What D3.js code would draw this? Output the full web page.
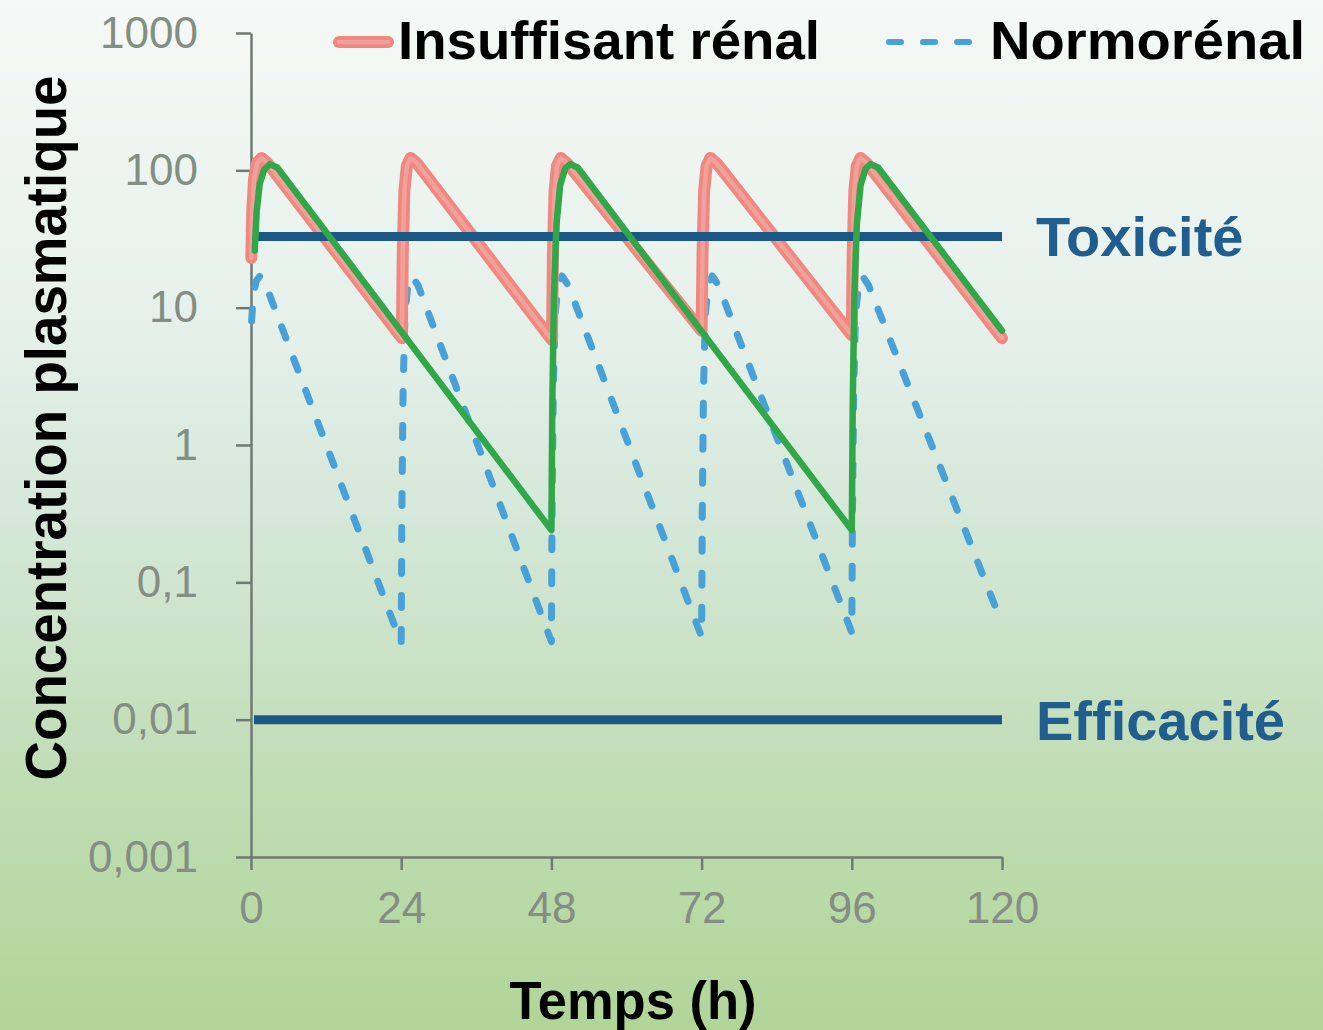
<!DOCTYPE html>
<html>
<head>
<meta charset="utf-8">
<style>
  html, body {
    margin: 0;
    padding: 0;
  }
  body {
    width: 1323px;
    height: 1030px;
    overflow: hidden;
  }
  svg {
    display: block;
    font-family: "Liberation Sans", Arial, sans-serif;
  }
  .tick text {
    fill: #838e84;
    font-size: 44px;
  }
  .tick line, .domain {
    stroke: #6f7b72;
    stroke-width: 2.5;
  }
  .curve {
    fill: none;
    stroke-linejoin: round;
    stroke-linecap: round;
  }
  .label {
    font-weight: bold;
  }
</style>
<script src="https://cdn.jsdelivr.net/npm/d3@7"></script>
</head>
<body>
<svg id="chart" width="1323" height="1030"></svg>
<script>
  var timeTicks = [0, 24, 48, 72, 96, 120];
  var concTicks = [1000, 100, 10, 1, 0.1, 0.01, 0.001];
  var concTickLabels = ['1000', '100', '10', '1', '0,1', '0,01', '0,001'];

  var seuilToxicite = 33;
  var seuilEfficacite = 0.01;

  // [temps (h), concentration]
  var insuffisantRenal = [
    [0.05, 23], [0.2, 50], [0.5, 88], [1.0, 114], [1.7, 123], [2.7, 112], [24.1, 6.0],
    [24.25, 25], [24.5, 70], [24.9, 108], [25.5, 123], [26.5, 113], [48.1, 5.8],
    [48.25, 25], [48.5, 70], [48.9, 108], [49.5, 123], [50.5, 113], [72.0, 6.8],
    [72.15, 25], [72.4, 70], [72.8, 108], [73.4, 123], [74.4, 113], [96.0, 6.3],
    [96.15, 25], [96.4, 70], [96.8, 108], [97.4, 123], [98.4, 113], [120, 6.0]
  ];

  // green curve: insuffisant rénal, dose every 48 h
  var insuffisantAdapte = [
    [0.6, 26], [0.9, 50], [1.4, 80], [2.1, 101], [3.0, 111], [4.2, 105], [48.0, 0.24],
    [48.15, 2], [48.4, 12], [48.8, 40], [49.4, 78], [50.2, 103], [51.0, 111], [52.2, 105], [96.0, 0.24],
    [96.15, 2], [96.4, 12], [96.8, 40], [97.4, 78], [98.2, 103], [99.0, 111], [100.2, 105], [120, 6.8]
  ];

  var normorenal = [
    [0.1, 8], [0.35, 12], [0.8, 15.5], [1.4, 17], [2.4, 14.5], [24.0, 0.036],
    [24.1, 0.3], [24.3, 2.5], [24.6, 9], [25.1, 15], [25.7, 17], [26.7, 14.5], [48.0, 0.037],
    [48.1, 0.3], [48.3, 2.5], [48.6, 9], [49.1, 15], [49.7, 17], [50.7, 14.5], [72.0, 0.04],
    [72.1, 0.3], [72.3, 2.5], [72.6, 9], [73.1, 15], [73.7, 17], [74.7, 14.5], [96.0, 0.043],
    [96.1, 0.3], [96.3, 2.5], [96.6, 9], [97.1, 15], [97.7, 17], [98.7, 14.5], [120, 0.05]
  ];

  var svg = d3.select('#chart');

  var grad = svg.append('defs').append('linearGradient')
    .attr('id', 'bg')
    .attr('x1', 0).attr('y1', 0).attr('x2', 0).attr('y2', 1);
  [[0, '#f5f9f7'], [0.3, '#e7f1eb'], [0.5, '#d5e8d9'], [0.75, '#c1ddb6'], [1, '#b1d597']]
    .forEach(s => grad.append('stop').attr('offset', s[0]).attr('stop-color', s[1]));

  svg.append('rect')
    .attr('width', 1323)
    .attr('height', 1030)
    .attr('fill', 'url(#bg)');

  var x = d3.scaleLinear().domain([0, 120]).range([251, 1002]);
  var y = d3.scaleLog().domain([0.001, 1000]).range([857, 33]);

  svg.append('g')
    .attr('transform', 'translate(0,' + y(0.001) + ')')
    .call(d3.axisBottom(x)
      .tickValues(timeTicks)
      .tickSize(13)
      .tickSizeOuter(0)
      .tickPadding(22));

  svg.append('g')
    .attr('transform', 'translate(' + x(0) + ',0)')
    .call(d3.axisLeft(y)
      .tickValues(concTicks)
      .tickFormat((d, i) => concTickLabels[i])
      .tickSize(15)
      .tickSizeOuter(0)
      .tickPadding(38));

  var line = d3.line()
    .x(d => x(d[0]))
    .y(d => y(d[1]));

  svg.append('path')
    .datum(normorenal)
    .attr('class', 'curve')
    .attr('d', line)
    .attr('stroke', '#48a2d8')
    .attr('stroke-width', 7)
    .attr('stroke-dasharray', '12,22');

  svg.append('path')
    .datum(insuffisantRenal)
    .attr('class', 'curve')
    .attr('d', line)
    .attr('stroke', '#ee8880')
    .attr('stroke-width', 12);
  svg.append('path')
    .datum(insuffisantRenal)
    .attr('class', 'curve')
    .attr('d', line)
    .attr('stroke', '#f3a098')
    .attr('stroke-width', 4.5);

  var seuils = [
    {name: 'Toxicité', value: seuilToxicite},
    {name: 'Efficacité', value: seuilEfficacite}
  ];

  svg.selectAll('.seuil')
    .data(seuils)
    .enter().append('line')
    .attr('class', 'seuil')
    .attr('x1', x(0) + 3)
    .attr('x2', x(120))
    .attr('y1', d => y(d.value))
    .attr('y2', d => y(d.value))
    .attr('stroke', '#1c5886')
    .attr('stroke-width', 9);

  svg.selectAll('.seuil-label')
    .data(seuils)
    .enter().append('text')
    .attr('class', 'label seuil-label')
    .attr('x', x(120) + 34)
    .attr('y', d => y(d.value) + 20)
    .attr('fill', '#1f5e8e')
    .attr('font-size', 56)
    .text(d => d.name);

  svg.append('path')
    .datum(insuffisantAdapte)
    .attr('class', 'curve')
    .attr('d', line)
    .attr('stroke', '#30a84a')
    .attr('stroke-width', 6.5);

  // legend
  var legend = svg.append('g');
  legend.append('line')
    .attr('x1', 339).attr('x2', 388).attr('y1', 42).attr('y2', 42)
    .attr('stroke', '#ee8880').attr('stroke-width', 12).attr('stroke-linecap', 'round');
  legend.append('line')
    .attr('x1', 339).attr('x2', 388).attr('y1', 42).attr('y2', 42)
    .attr('stroke', '#f3a098').attr('stroke-width', 4.5).attr('stroke-linecap', 'round');
  legend.append('text')
    .attr('class', 'label')
    .attr('x', 398).attr('y', 59)
    .attr('font-size', 54)
    .attr('textLength', 422)
    .attr('lengthAdjust', 'spacingAndGlyphs')
    .text('Insuffisant rénal');

  legend.append('line')
    .attr('x1', 889).attr('x2', 969).attr('y1', 42).attr('y2', 42)
    .attr('stroke', '#48a2d8').attr('stroke-width', 6)
    .attr('stroke-linecap', 'round')
    .attr('stroke-dasharray', '12,22');
  legend.append('text')
    .attr('class', 'label')
    .attr('x', 990).attr('y', 59)
    .attr('font-size', 54)
    .attr('textLength', 315)
    .attr('lengthAdjust', 'spacingAndGlyphs')
    .text('Normorénal');

  // axis titles
  svg.append('text')
    .attr('class', 'label')
    .attr('text-anchor', 'middle')
    .attr('x', 633).attr('y', 1019)
    .attr('font-size', 54)
    .attr('textLength', 247)
    .attr('lengthAdjust', 'spacingAndGlyphs')
    .text('Temps (h)');

  svg.append('text')
    .attr('class', 'label')
    .attr('text-anchor', 'middle')
    .attr('transform', 'translate(66,428) rotate(-90)')
    .attr('font-size', 58)
    .attr('textLength', 705)
    .attr('lengthAdjust', 'spacingAndGlyphs')
    .text('Concentration plasmatique');
</script>
</body>
</html>
